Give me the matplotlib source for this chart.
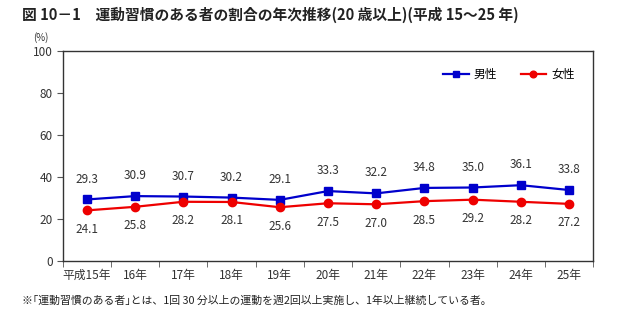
import matplotlib
matplotlib.use("Agg")
import matplotlib.pyplot as plt
import numpy as np

plt.rcParams['font.family'] = ['Noto Sans CJK JP', 'DejaVu Sans']

categories = ["平成15年", "16年", "17年", "18年", "19年", "20年", "21年", "22年", "23年", "24年", "25年"]
male = [29.3, 30.9, 30.7, 30.2, 29.1, 33.3, 32.2, 34.8, 35.0, 36.1, 33.8]
female = [24.1, 25.8, 28.2, 28.1, 25.6, 27.5, 27.0, 28.5, 29.2, 28.2, 27.2]
yticks = [0, 20, 40, 60, 80, 100]

fig = plt.figure(figsize=(6.4, 3.23), dpi=100)
ax = fig.add_axes([0.098, 0.192, 0.829, 0.650])

x = np.arange(len(categories))
ax.plot(x, male, color='#0000CC', marker='s', markersize=6, linewidth=1.6, label='男性', zorder=3)
ax.plot(x, female, color='#EE0000', marker='o', markersize=6, linewidth=1.6, label='女性', zorder=3)

for xi, v in zip(x, male):
    ax.annotate(f"{v:.1f}", (xi, v), xytext=(0, 10), textcoords='offset points',
                ha='center', va='bottom', fontsize=8.5, color='#333333')
for xi, v in zip(x, female):
    ax.annotate(f"{v:.1f}", (xi, v), xytext=(0, -9), textcoords='offset points',
                ha='center', va='top', fontsize=8.5, color='#333333')

ax.set_xlim(-0.5, len(categories) - 0.5)
ax.set_ylim(0, 100)
ax.set_yticks(yticks)
ax.set_yticklabels([str(t) for t in yticks], fontsize=8.5, color='#333333')
ax.set_xticks(x)
ax.set_xticklabels(categories, fontsize=8.5, color='#333333')
ax.tick_params(axis='x', length=0, pad=6)
ax.set_xticks(np.arange(-0.5, len(categories), 1), minor=True)
ax.tick_params(axis='x', which='minor', length=4, direction='out', color='#555555')
ax.tick_params(axis='y', length=4, direction='out', color='#555555', pad=3)
for s in ax.spines.values():
    s.set_color('#333333')
    s.set_linewidth(1.0)

leg = ax.legend(loc='upper right', ncol=2, frameon=False, fontsize=8.5,
                bbox_to_anchor=(0.985, 0.97), handlelength=2.2, columnspacing=2.0,
                handletextpad=0.4, markerscale=0.8)

fig.text(0.034, 0.955, "図 10－1　運動習慣のある者の割合の年次推移(20 歳以上)(平成 15～25 年)",
         fontsize=10.6, fontweight='bold', color='#222222', ha='left', va='center')
fig.text(0.052, 0.885, "(%)", fontsize=7, color='#333333', ha='left', va='center')
fig.text(0.034, 0.07, "※｢運動習慣のある者｣とは、1回 30 分以上の運動を週2回以上実施し、1年以上継続している者。",
         fontsize=7.8, color='#222222', ha='left', va='center')

fig.savefig("out.png", dpi=100)
